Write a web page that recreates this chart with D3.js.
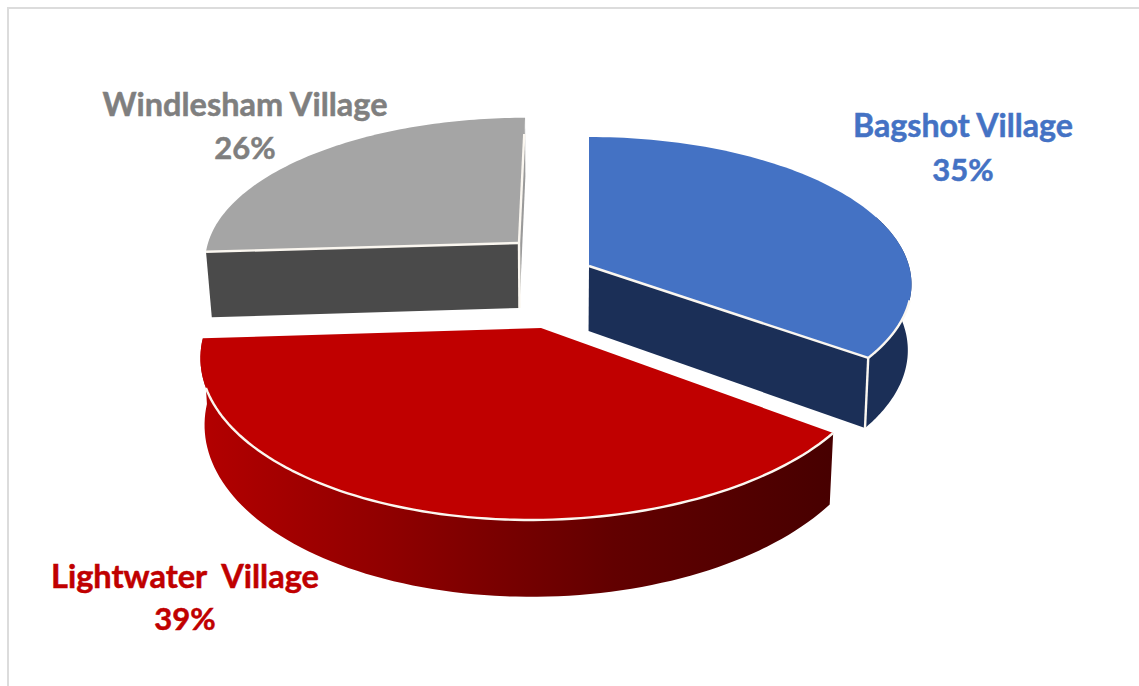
<!DOCTYPE html>
<html><head><meta charset="utf-8">
<script src="https://cdnjs.cloudflare.com/ajax/libs/d3/7.8.5/d3.min.js"></script>
<style>html,body{margin:0;padding:0;background:#fff;overflow:hidden}svg{display:block}</style>
</head><body><svg id="c" width="1139" height="686"></svg>
<script>
const categories = ["Bagshot Village", "Lightwater  Village", "Windlesham Village"];
const values = [35, 39, 26];
const topColors = ["#4472c4", "#c00000", "#a5a5a5"];
const textColors = ["#4472c4", "#c00000", "#7f7f7f"];

// layout: per-slice exploded centre and local perspective camera
const cams = [
  {cx:589, cy:266, a:320, b:145, p:.124, s:0, k:.99},
  {cx:541, cy:328, a:335, b:162.4, p:.154, s:-9, k:.988},
  {cx:519, cy:243, a:311, b:139, p:.11, s:-6.7, k:.983}
];
const labelPos = [
  {x:963, y1:137, y2:181, w:220},
  {x:185, y1:588, y2:630, w:268},
  {x:245, y1:116, y2:159, w:285}
];
const H = 65, VX = 545;

const svg = d3.select("#c");
const defs = svg.append("defs");
const grad = (id, stops) => {
  const g = defs.append("linearGradient").attr("id", id).attr("gradientUnits","userSpaceOnUse")
    .attr("x1",200).attr("x2",835).attr("y1",0).attr("y2",0);
  stops.forEach(s => g.append("stop").attr("offset", s[0]).attr("stop-color", s[1]));
};
grad("redWall", [[0,"#b30000"],[.3,"#8f0000"],[.65,"#620000"],[1,"#470000"]]);

svg.append("path").attr("d","M8 686V8H1139").attr("fill","none").attr("stroke","#dcdcdc").attr("stroke-width",2);

const arcs = d3.pie().sort(null).value(d => d)(values);
const line = d3.line();

function topPt(c, th, r = 1) {
  const X = r*Math.sin(th), Z = -r*Math.cos(th), w = 1 - c.p*Z;
  return [c.cx + (c.a*X + c.s*Z)/w, c.cy + c.b*Z/w, w];
}
function botPt(c, th, r = 1) {
  const [x,y,w] = topPt(c, th, r);
  return [VX + (x-VX)*c.k, y + H/w];
}
const ring = (c, a0, a1, f) => d3.range(0, 1.0001, 1/90).map(t => f(c, a0 + (a1-a0)*t));
const apexT = c => topPt(c, 0, 0).slice(0,2);
const apexB = c => botPt(c, 0, 0);
const t2 = p => [p[0], p[1]];

function wall(g, c, a0, a1, fill) {
  const up = ring(c,a0,a1,topPt).map(t2), dn = ring(c,a0,a1,botPt).reverse();
  g.append("path").attr("d", line(up.concat(dn))+"Z").attr("fill", fill);
}
function cut(g, c, th, fill) {
  g.append("path").attr("d", line([apexT(c), t2(topPt(c,th)), botPt(c,th), apexB(c)])+"Z").attr("fill", fill);
}
function edge(g, pts) {
  g.append("path").attr("d", line(pts)).attr("fill","none").attr("stroke","#fbf7f0").attr("stroke-width",2.4).attr("stroke-linejoin","round");
}
function face(g, c, a0, a1, fill) {
  const pts = [apexT(c)].concat(ring(c,a0,a1,topPt).map(t2));
  g.append("path").attr("d", line(pts)+"Z").attr("fill", fill);
}

// Windlesham (back left)
{
  const i=2, c=cams[i], A=arcs[i], g=svg.append("g");
  cut(g, c, A.endAngle, "#9a9a9a");
  cut(g, c, A.startAngle, "#4a4a4a");
  face(g, c, A.startAngle, A.endAngle, topColors[i]);
  edge(g, [t2(topPt(c,A.startAngle)), apexT(c)]);
  const e = topPt(c,A.endAngle);
  edge(g, [apexT(c), [apexT(c)[0]+(e[0]-c.cx)*.87, apexT(c)[1]+(e[1]-c.cy)*.87]]);
  edge(g, [apexT(c), apexB(c)]);
}
// Bagshot (back right)
{
  const i=0, c=cams[i], A=arcs[i], g=svg.append("g");
  wall(g, c, A.startAngle + (A.endAngle-A.startAngle)*.55, A.endAngle, "#1b2f57");
  cut(g, c, A.endAngle, "#1b2f57");
  face(g, c, A.startAngle, A.endAngle, topColors[i]);
  edge(g, [apexT(c), t2(topPt(c,A.endAngle))]);
  edge(g, [t2(topPt(c,A.endAngle)), botPt(c,A.endAngle)]);
  edge(g, ring(c, A.startAngle + (A.endAngle-A.startAngle)*.82, A.endAngle, topPt).map(t2));
}
// Lightwater (front)
{
  const i=1, c=cams[i], A=arcs[i], g=svg.append("g");
  wall(g, c, A.startAngle, A.endAngle, "url(#redWall)");
  face(g, c, A.startAngle, A.endAngle, topColors[i]);
  edge(g, ring(c, A.startAngle, A.startAngle + (A.endAngle-A.startAngle)*.88, topPt).map(t2));
}

// Labels
const font = "Lato, 'Noto Sans', sans-serif";
arcs.forEach((A,i) => {
  const l = labelPos[i];
  const lab = svg.append("g").attr("font-family", font).attr("font-weight",700)
    .attr("font-size",32).attr("fill",textColors[i]).attr("stroke",textColors[i]).attr("stroke-width",.5)
    .attr("text-anchor","middle");
  lab.append("text").attr("x",l.x).attr("y",l.y1).style("white-space","pre")
    .attr("textLength",l.w).attr("lengthAdjust","spacingAndGlyphs").text(categories[i]);
  lab.append("text").attr("x",l.x).attr("y",l.y2).attr("font-size",31).text(Math.round(A.value)+"%");
});
</script></body></html>
